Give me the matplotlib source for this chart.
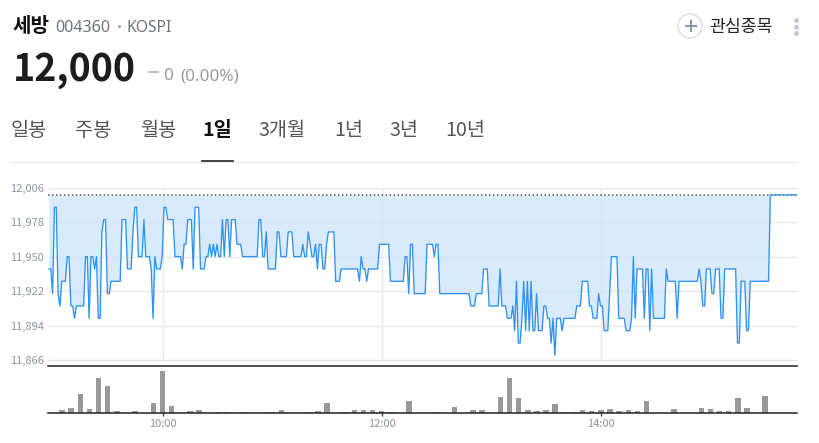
import numpy as np
import matplotlib
matplotlib.use('Agg')
import matplotlib.pyplot as plt
from matplotlib.patches import Circle

plt.rcParams['font.family'] = ['Noto Sans CJK KR', 'DejaVu Sans']

# one price per minute
prices = [11940, 11940, 11920, 11990, 11990, 11920, 11910, 11930, 11930, 11930,
          11950, 11950, 11910, 11910, 11900, 11910, 11910, 11910, 11910, 11910,
          11950, 11950, 11900, 11950, 11950, 11940, 11950, 11900, 11900, 11970,
          11980, 11980, 11920, 11920, 11930, 11930, 11930, 11930, 11930, 11930,
          11980, 11980, 11980, 11940, 11940, 11940, 11970, 11990, 11990, 11950,
          11950, 11950, 11980, 11950, 11950, 11950, 11940, 11900, 11950, 11940,
          11940, 11940, 11950, 11990, 11990, 11980, 11980, 11980, 11980, 11950,
          11950, 11950, 11950, 11940, 11960, 11960, 11980, 11980, 11980, 11940,
          11990, 11990, 11990, 11940, 11940, 11940, 11950, 11950, 11960, 11950,
          11960, 11950, 11960, 11950, 11950, 11980, 11950, 11980, 11980, 11950,
          11980, 11980, 11980, 11960, 11960, 11960, 11950, 11950, 11950, 11950,
          11950, 11950, 11950, 11950, 11950, 11980, 11980, 11950, 11950, 11970,
          11940, 11940, 11940, 11940, 11940, 11970, 11970, 11950, 11950, 11950,
          11950, 11970, 11970, 11970, 11950, 11950, 11950, 11950, 11950, 11960,
          11950, 11950, 11970, 11960, 11950, 11950, 11960, 11940, 11960, 11960,
          11940, 11940, 11960, 11970, 11970, 11970, 11970, 11930, 11930, 11930,
          11940, 11940, 11940, 11940, 11940, 11940, 11940, 11940, 11940, 11940,
          11930, 11950, 11940, 11940, 11930, 11940, 11940, 11940, 11940, 11940,
          11940, 11960, 11960, 11960, 11960, 11960, 11960, 11930, 11930, 11930,
          11930, 11930, 11930, 11930, 11930, 11950, 11950, 11920, 11960, 11960,
          11920, 11920, 11920, 11920, 11920, 11920, 11920, 11960, 11960, 11960,
          11960, 11950, 11960, 11960, 11920, 11920, 11920, 11920, 11920, 11920,
          11920, 11920, 11920, 11920, 11920, 11920, 11920, 11920, 11920, 11920,
          11920, 11910, 11910, 11910, 11920, 11920, 11920, 11920, 11940, 11940,
          11940, 11910, 11910, 11910, 11910, 11910, 11910, 11940, 11910, 11910,
          11910, 11900, 11900, 11900, 11910, 11890, 11930, 11880, 11880, 11900,
          11930, 11890, 11930, 11890, 11930, 11890, 11890, 11920, 11890, 11890,
          11890, 11910, 11910, 11900, 11900, 11880, 11900, 11870, 11900, 11900,
          11900, 11890, 11900, 11900, 11900, 11900, 11900, 11900, 11900, 11910,
          11910, 11910, 11930, 11930, 11930, 11930, 11910, 11910, 11900, 11900,
          11900, 11920, 11910, 11910, 11890, 11890, 11890, 11920, 11950, 11950,
          11950, 11950, 11900, 11900, 11900, 11900, 11890, 11890, 11890, 11900,
          11950, 11900, 11940, 11940, 11940, 11940, 11900, 11940, 11940, 11890,
          11940, 11900, 11900, 11900, 11900, 11900, 11900, 11900, 11940, 11930,
          11930, 11930, 11930, 11930, 11900, 11930, 11930, 11930, 11930, 11930,
          11930, 11930, 11930, 11930, 11930, 11930, 11940, 11930, 11910, 11910,
          11940, 11940, 11940, 11920, 11920, 11940, 11940, 11940, 11900, 11900,
          11940, 11940, 11940, 11940, 11940, 11940, 11940, 11880, 11880, 11930,
          11930, 11930, 11890, 11890, 11930, 11930, 11930, 11930, 11930, 11930,
          11930, 11930, 11930, 11930, 11930, 12000, 12000, 12000, 12000, 12000,
          12000, 12000, 12000, 12000, 12000, 12000, 12000, 12000, 12000, 12000,
          12000, 12000]

# volume every 5 minutes (minutes after 9:00), scale is arbitrary
vol_times = [5, 10, 15, 20, 25, 30, 35, 45, 55, 60, 65, 75, 80, 90, 95, 105, 120, 125,
             140, 145, 150, 160, 165, 170, 175, 180, 185, 195, 210, 220, 230, 235,
             245, 250, 255, 260, 265, 270, 275, 280, 285, 290, 295, 300, 305, 310,
             315, 320, 325, 340, 355, 360, 365, 370, 375, 380, 390]
volumes = [9, 15, 55, 10, 103, 79, 5, 6, 28, 124, 20, 5, 9, 3, 3, 3, 3, 9,
           3, 6, 28, 3, 9, 9, 9, 5, 3, 35, 3, 16, 9, 9,
           46, 103, 43, 7, 4, 7, 25, 3, 3, 7, 4, 9, 10, 5,
           7, 4, 35, 10, 15, 10, 4, 4, 45, 15, 51]

y_ticks = [11866, 11894, 11922, 11950, 11978, 12006]
y_labels = ['11,866', '11,894', '11,922', '11,950', '11,978', '12,006']
x_ticks = [60, 180, 300]
x_labels = ['10:00', '12:00', '14:00']
prev_close = 12000

tabs = ['일봉', '주봉', '월봉', '1일', '3개월', '1년', '3년', '10년']
tab_x = [11, 75, 140, 202, 258, 334, 389, 445]

W, H = 819, 443
GREY = '#8e96a0'
LATIN = ['Noto Sans', 'DejaVu Sans']


def axes_px(left, top, right, bottom):
    return fig.add_axes([left / W, 1 - bottom / H, (right - left) / W, (bottom - top) / H])


fig = plt.figure(figsize=(W / 100, H / 100), dpi=100, facecolor='white')

# price chart
minutes = np.arange(len(prices)) - 2.2
ax = axes_px(48.4, 187.5, 797, 365.7)
ax.set_xlim(-2.5, 407.4)
ax.set_ylim(11861.6, 12006)
for s in ['top', 'left', 'right']:
    ax.spines[s].set_visible(False)
ax.spines['bottom'].set_color('#222222')
ax.spines['bottom'].set_linewidth(1.1)
ax.hlines(y_ticks, -2.5, 407.4, color='#e8e8e8', lw=1, zorder=1)
ax.vlines(x_ticks, 11866, 12006, color='#e6e9ef', lw=1, zorder=1)
ax.fill_between(minutes, prices, prev_close, color='#cfe5fc', alpha=0.8, lw=0, zorder=2)
ax.axhline(prev_close, color='#555555', lw=1.1, ls=(0, (1, 1.6)), zorder=3)
ax.plot(minutes, prices, color='#2e92f5', lw=0.95, zorder=4)
ax.set_xticks([])
ax.set_yticks(y_ticks)
ax.set_yticklabels(y_labels, ha='left', color=GREY, fontsize=8)
ax.tick_params(axis='y', length=0, pad=27.4)

# volume
vax = axes_px(48.4, 365.7, 797, 412.5)
vax.set_xlim(-2.5, 407.4)
vax.set_ylim(0, 141)
vax.patch.set_alpha(0)
for s in ['top', 'left', 'right']:
    vax.spines[s].set_visible(False)
vax.spines['bottom'].set_color('#222222')
vax.spines['bottom'].set_linewidth(1.1)
vax.bar(vol_times, volumes, width=3, color='#999999', lw=0)
vax.set_yticks([])
vax.set_xticks(x_ticks)
vax.set_xticklabels(x_labels, color=GREY, fontsize=8)
vax.tick_params(axis='x', length=2.5, width=1, color='#444444', pad=2.5)

# header, drawn on a full figure axes in pixels
top = fig.add_axes([0, 0, 1, 1], zorder=5)
top.set_xlim(0, W)
top.set_ylim(H, 0)
top.axis('off')

top.text(13, 25, '세방', fontsize=14.5, fontweight='bold', color='#111111', va='center')
top.text(55, 27.5, '004360', fontsize=11.6, color='#6f757c', va='center', fontfamily=LATIN)
top.plot([118.5], [26], marker='o', ms=2.2, color='#a8adb3', mew=0)
top.text(127, 27.5, 'KOSPI', fontsize=11.3, color='#6f757c', va='center', fontfamily=LATIN)
top.text(12.5, 69, '12,000', fontsize=27, fontweight='bold', color='#1d1d1d', va='center')
top.plot([149, 158], [72, 72], color='#b8b8b8', lw=1.3)
top.text(163, 76, '0', fontsize=12.3, color='#9a9a9a', va='center', fontfamily=LATIN)
top.text(180, 76, '(0.00%)', fontsize=12.3, color='#9a9a9a', va='center', fontfamily=LATIN)

for label, x in zip(tabs, tab_x):
    if label == '1일':
        top.text(x, 130.5, label, fontsize=14.2, fontweight='bold', color='#111111', va='center')
    else:
        top.text(x, 130.5, label, fontsize=14.2, color='#555555', va='center')
top.plot([10, 797], [161.5, 161.5], color='#eeeeee', lw=1)
top.plot([202, 233], [161, 161], color='#222222', lw=1.2)

top.add_patch(Circle((690, 26), 12, fc='white', ec='#d9dce3', lw=1))
top.plot([690.5, 690.5], [20, 32], color='#8d99aa', lw=1.5, solid_capstyle='butt')
top.plot([684.5, 696.5], [26, 26], color='#8d99aa', lw=1.5, solid_capstyle='butt')
top.text(709, 27, '관심종목', fontsize=12.4, color='#222222', va='center')
top.plot([795.5, 795.5, 795.5], [20, 26.5, 33], ls='', marker='o', ms=3.6, color='#c5c9cf', mew=0)

fig.savefig('out.png', dpi=100)
